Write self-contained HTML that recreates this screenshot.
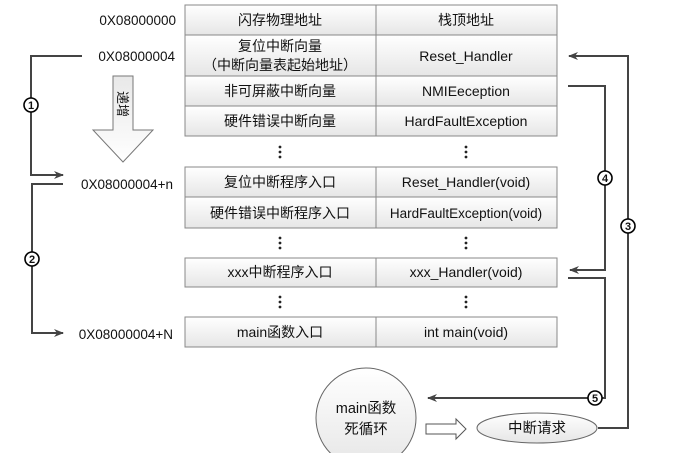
<!DOCTYPE html>
<html><head><meta charset="utf-8"><style>
body{margin:0;background:#fff}
svg text{font-family:"Liberation Sans","Noto Sans CJK SC",sans-serif;fill:#111}
</style></head><body>
<svg width="675" height="453" viewBox="0 0 675 453" xmlns="http://www.w3.org/2000/svg">
<defs>
<linearGradient id="g" x1="0" y1="0" x2="0" y2="1"><stop offset="0" stop-color="#ffffff"/><stop offset="1" stop-color="#e6e6e6"/></linearGradient>
<linearGradient id="ga" x1="0" y1="0" x2="0" y2="1"><stop offset="0" stop-color="#e8e8e8"/><stop offset="1" stop-color="#ffffff"/></linearGradient>
<marker id="ar" markerWidth="10" markerHeight="8" refX="9" refY="4" orient="auto" markerUnits="userSpaceOnUse"><path d="M0,0 L10,4 L0,8 L3,4 Z" fill="#444"/></marker>
</defs>
<g stroke="#888" stroke-width="1" fill="url(#g)">
<rect x="185" y="5" width="191" height="30"/><rect x="376" y="5" width="181" height="30"/>
<rect x="185" y="35" width="191" height="41"/><rect x="376" y="35" width="181" height="41"/>
<rect x="185" y="76" width="191" height="30"/><rect x="376" y="76" width="181" height="30"/>
<rect x="185" y="106" width="191" height="30"/><rect x="376" y="106" width="181" height="30"/>
<rect x="185" y="167" width="191" height="30"/><rect x="376" y="167" width="181" height="30"/>
<rect x="185" y="197" width="191" height="31"/><rect x="376" y="197" width="181" height="31"/>
<rect x="185" y="258" width="191" height="29"/><rect x="376" y="258" width="181" height="29"/>
<rect x="185" y="317" width="191" height="30"/><rect x="376" y="317" width="181" height="30"/>
</g>
<g font-size="14" text-anchor="middle">
<text x="280" y="25">闪存物理地址</text><text x="466" y="25">栈顶地址</text>
<text x="280" y="51">复位中断向量</text><text x="280" y="70">（中断向量表起始地址）</text><text x="466" y="61">Reset_Handler</text>
<text x="280" y="96">非可屏蔽中断向量</text><text x="466" y="96">NMIEeception</text>
<text x="280" y="126">硬件错误中断向量</text><text x="466" y="126">HardFaultException</text>
<text x="280" y="187">复位中断程序入口</text><text x="466" y="187">Reset_Handler(void)</text>
<text x="280" y="218">硬件错误中断程序入口</text><text x="466" y="218" font-size="13.5">HardFaultException(void)</text>
<text x="280" y="277">xxx中断程序入口</text><text x="466" y="277">xxx_Handler(void)</text>
<text x="280" y="337">main函数入口</text><text x="466" y="337">int main(void)</text>
</g>
<g fill="#222">
<circle cx="280" cy="147" r="1.4"/><circle cx="280" cy="152" r="1.4"/><circle cx="280" cy="157" r="1.4"/>
<circle cx="466" cy="147" r="1.4"/><circle cx="466" cy="152" r="1.4"/><circle cx="466" cy="157" r="1.4"/>
<circle cx="280" cy="238" r="1.4"/><circle cx="280" cy="243" r="1.4"/><circle cx="280" cy="248" r="1.4"/>
<circle cx="466" cy="238" r="1.4"/><circle cx="466" cy="243" r="1.4"/><circle cx="466" cy="248" r="1.4"/>
<circle cx="280" cy="297" r="1.4"/><circle cx="280" cy="302" r="1.4"/><circle cx="280" cy="307" r="1.4"/>
<circle cx="466" cy="297" r="1.4"/><circle cx="466" cy="302" r="1.4"/><circle cx="466" cy="307" r="1.4"/>
</g>
<g font-size="13.5" text-anchor="end">
<text x="176" y="25">0X08000000</text>
<text x="175" y="61">0X08000004</text>
<text x="173" y="189">0X08000004+n</text>
<text x="173" y="339">0X08000004+N</text>
</g>
<path d="M113,76 H133 V130 H153 L123,162 L93,130 H113 Z" fill="url(#ga)" stroke="#777"/>
<text x="0" y="0" font-size="13" transform="translate(118,104) rotate(90)" text-anchor="middle">递增</text>
<g stroke="#444" stroke-width="2" fill="none">
<path d="M82,56 H31 V175 H63" marker-end="url(#ar)"/>
<path d="M63,184 H32 V333 H63" marker-end="url(#ar)"/>
<path d="M568,86 H605 V270 H570" marker-end="url(#ar)"/>
<path d="M568,278 H605 V398 H428" marker-end="url(#ar)"/>
<path d="M598,428 H628 V56 H569" marker-end="url(#ar)"/>
</g>
<g font-size="11" font-weight="bold" text-anchor="middle">
<circle cx="31" cy="105" r="7" fill="#fff" stroke="#000" stroke-width="1.6"/><text x="31" y="109">1</text>
<circle cx="32" cy="259" r="7" fill="#fff" stroke="#000" stroke-width="1.6"/><text x="32" y="263">2</text>
<circle cx="628" cy="226" r="7" fill="#fff" stroke="#000" stroke-width="1.6"/><text x="628" y="230">3</text>
<circle cx="605" cy="178" r="7" fill="#fff" stroke="#000" stroke-width="1.6"/><text x="605" y="182">4</text>
<circle cx="595" cy="398" r="7" fill="#fff" stroke="#000" stroke-width="1.6"/><text x="595" y="402">5</text>
</g>
<circle cx="366" cy="418" r="50" fill="url(#g)" stroke="#666"/>
<text x="366" y="413" font-size="14.5" text-anchor="middle">main函数</text>
<text x="366" y="434" font-size="14.5" text-anchor="middle">死循环</text>
<path d="M426,424 H456 V419 L466,429 L456,439 V434 H426 Z" fill="#fff" stroke="#555"/>
<ellipse cx="537" cy="428" rx="60" ry="15" fill="url(#g)" stroke="#666"/>
<text x="537" y="433" font-size="14.5" text-anchor="middle">中断请求</text>
</svg>
</body></html>
